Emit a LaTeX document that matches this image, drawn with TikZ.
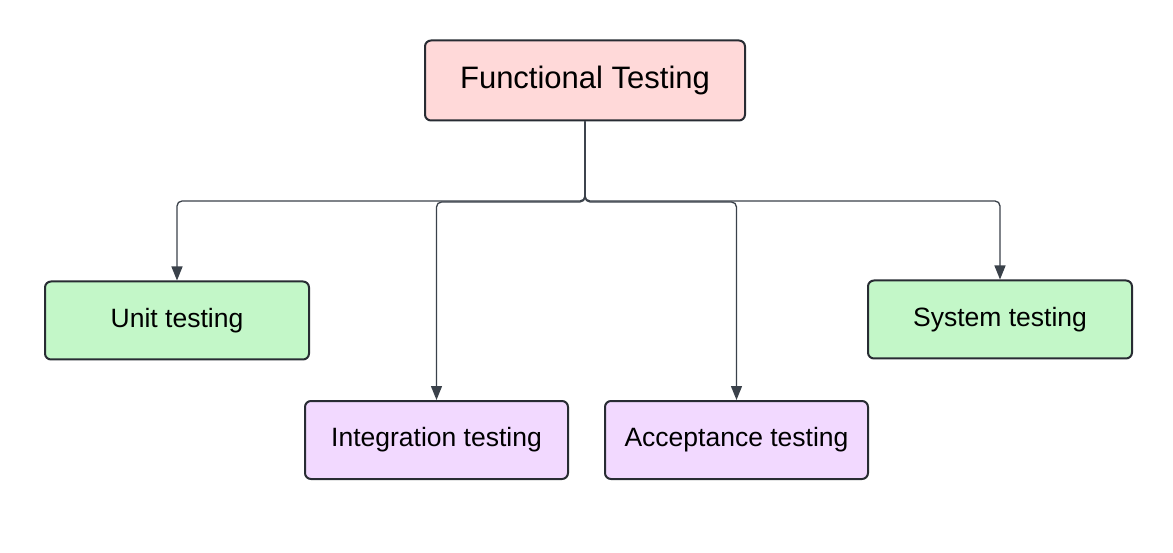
\documentclass[tikz,border=0pt]{standalone}
\usepackage{fontspec}
\setmainfont{Liberation Sans}
\usetikzlibrary{arrows.meta}
\definecolor{pinkf}{HTML}{FFD9D9}
\definecolor{greenf}{HTML}{C3F7C8}
\definecolor{purplef}{HTML}{F2D9FF}
\definecolor{bordc}{HTML}{282C33}
\definecolor{linec}{HTML}{3A414A}
\begin{document}
\begin{tikzpicture}[x=1pt,y=-1pt,
  box/.style={draw=bordc,line width=2pt,rounded corners=6pt,inner sep=0pt,
    minimum height=78pt,minimum width=264pt,font=\fontsize{26.5}{30}\selectfont},
  conn/.style={draw=linec,line width=1.3pt,rounded corners=5pt,
    -{Triangle[width=11pt,length=14pt]}}]
\useasboundingbox (0,0) rectangle (1173,553);
\node[box,fill=pinkf,minimum width=320pt,minimum height=80pt,font=\fontsize{31}{34}\selectfont] (ft) at (585,80.5) {Functional Testing};
\node[box,fill=greenf] (ut) at (177,320.5) {Unit testing};
\node[box,fill=greenf] (st) at (1000,319.5) {System testing};
\node[box,fill=purplef,minimum width=263pt] (it) at (436.5,440) {Integration testing};
\node[box,fill=purplef,minimum width=263pt] (at) at (736.5,440) {Acceptance testing};
\draw[conn] (ft.south) -- (585,201) -- (ut.north |- 0,201) -- (ut.north);
\draw[conn] (ft.south) -- (585,202) -- (it.north |- 0,202) -- (it.north);
\draw[conn] (ft.south) -- (585,202) -- (at.north |- 0,202) -- (at.north);
\draw[conn] (ft.south) -- (585,201) -- (st.north |- 0,201) -- (st.north);
\end{tikzpicture}
\end{document}
